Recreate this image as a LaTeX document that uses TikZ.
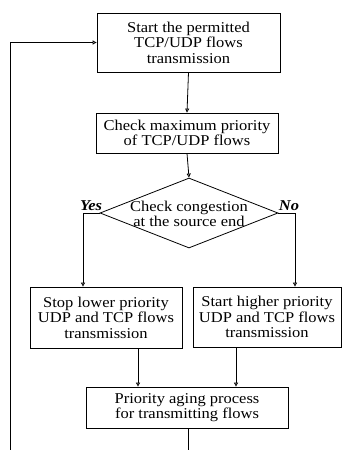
\documentclass[tikz,border=0pt]{standalone}
\usepackage{fontspec}
\setmainfont{Liberation Serif}[FakeStretch=1.1]
\usetikzlibrary{arrows.meta,shapes.geometric}
\begin{document}
\begin{tikzpicture}[x=1pt,y=-1pt,
  every node/.style={font=\fontsize{15}{15.5}\selectfont},
  box/.style={draw,line width=0.8pt,rectangle,inner sep=0pt,align=center},
  dia/.style={draw,line width=0.8pt,diamond,inner sep=0pt},
  lbl/.style={font=\fontsize{15}{15.5}\selectfont\bfseries\itshape,inner sep=0pt},
  conn/.style={line width=0.8pt},
  arr/.style={conn,-{Triangle[open,length=4pt,width=4pt]}}]
\useasboundingbox (0,0) rectangle (342,450);
\node[box,minimum width=183,minimum height=59] (b1) at (188.5,42.5) {Start the permitted\\TCP/UDP flows\\transmission};
\node[box,minimum width=182,minimum height=40] (b2) at (187,133) {Check maximum priority\\of TCP/UDP flows};
\node[dia,minimum width=178,minimum height=70] (d) at (189,213) {};
\node[align=center,inner sep=0pt] (dt) at (189,214) {Check congestion\\at the source end};
\node[lbl,anchor=south] (yes) at (91,211) {Yes};
\node[lbl,anchor=south] (no) at (289,211) {No};
\node[box,minimum width=152,minimum height=61] (b3) at (106,317.5) {Stop lower priority\\UDP and TCP flows\\transmission};
\node[box,minimum width=148,minimum height=60] (b4) at (267,317) {Start higher priority\\UDP and TCP flows\\transmission};
\node[box,minimum width=202,minimum height=41] (b5) at (187,407.5) {Priority aging process\\for transmitting flows};
\coordinate (yc) at (83,213);
\coordinate (nc) at (295,213);
\coordinate (e5) at (188,450);
\coordinate (lb) at (10,450);
\draw[arr] (b1.south) -- (b2.north);
\draw[arr] (b2.south) -- (d.north);
\draw[arr] (d.west) -- (yc) -- (b3.north -| yc);
\draw[arr] (d.east) -- (nc) -- (b4.north -| nc);
\draw[arr] (b3.south -| 138,0) -- (b5.north -| 138,0);
\draw[arr] (b4.south -| 236,0) -- (b5.north -| 236,0);
\draw[conn] (b5.south -| e5) -- (e5);
\draw[arr] (lb) -- (lb |- b1.west) -- (b1.west);
\end{tikzpicture}
\end{document}
